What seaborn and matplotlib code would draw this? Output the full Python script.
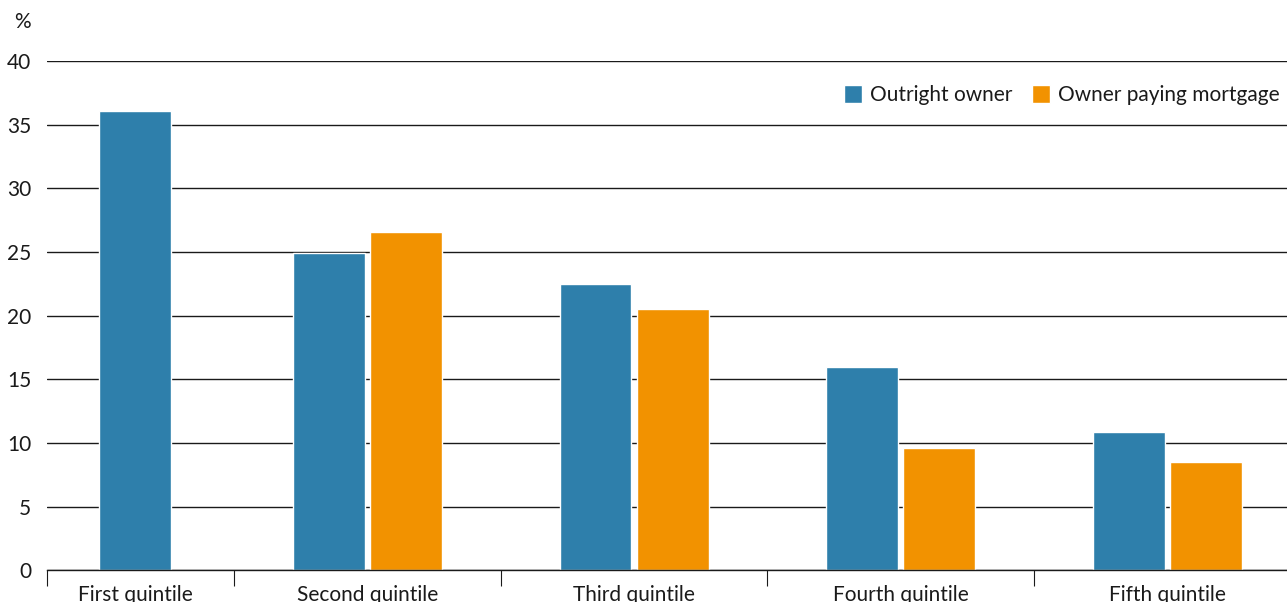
import numpy as np
import pandas as pd
import matplotlib
matplotlib.use("Agg")
import matplotlib.pyplot as plt
import seaborn as sns

# Share of households by income quintile, per housing tenure (%)
quintiles = ["First quintile", "Second quintile", "Third quintile",
             "Fourth quintile", "Fifth quintile"]
outright_owner = [36.1, 24.9, 22.5, 16.0, 10.9]
owner_mortgage = [np.nan, 26.6, 20.5, 9.6, 8.5]
tenures = ["Outright owner", "Owner paying mortgage"]
y_ticks = [0, 5, 10, 15, 20, 25, 30, 35, 40]

colors = {"Outright owner": "#2E7FAB", "Owner paying mortgage": "#F29200"}
FS = 15

sns.set_style("white")
plt.rcParams["font.family"] = ["Lato", "DejaVu Sans"]
plt.rcParams["font.size"] = FS

df = pd.DataFrame({
    "quintile": quintiles * 2,
    "tenure": [tenures[0]] * len(quintiles) + [tenures[1]] * len(quintiles),
    "share": outright_owner + owner_mortgage,
}).dropna()

W, H = 1287, 602
fig = plt.figure(figsize=(W / 100, H / 100), dpi=100)
ax = fig.add_axes([47 / W, 31.7 / H, 1 - 47 / W, (570.3 - 61) / H])

sns.barplot(data=df, x="quintile", y="share", hue="tenure",
            order=quintiles, hue_order=tenures, palette=colors,
            width=0.578, gap=0.066, saturation=1, ax=ax, legend=True)

# axis ranges
x_left, x_right = -0.2026, 4.450
ax.set_xlim(x_left, x_right)
ax.set_ylim(0, 40)

# The first quintile has only one series: centre its bar within its visible band
first_center = (x_left + 0.5) / 2 - 0.02
bar0 = ax.containers[0][0]
bar0.set_x(first_center - bar0.get_width() / 2)

# x axis: labels at category centres, separator ticks between categories
ax.set_xticks([first_center, 1, 2, 3, 4])
ax.set_xticklabels(quintiles)
ax.set_xticks([x_left, 0.5, 1.5, 2.5, 3.5], minor=True)
ax.tick_params(axis="x", which="major", length=0, pad=10.5, labelsize=FS,
               colors="#1a1a1a")
ax.tick_params(axis="x", which="minor", length=11.5, width=0.8,
               color="#1a1a1a", direction="out", bottom=True)
ax.set_xlabel("")

# y axis: gridlines only, labels on the left
ax.set_yticks(y_ticks)
ax.tick_params(axis="y", length=0, pad=11.5, labelsize=FS, colors="#1a1a1a")
ax.set_ylabel("")
ax.yaxis.grid(True, color="#1a1a1a", linewidth=1.0)
ax.set_axisbelow(True)

for side in ["top", "right", "left"]:
    ax.spines[side].set_visible(False)
ax.spines["bottom"].set_color("#1a1a1a")
ax.spines["bottom"].set_linewidth(1.0)

fig.text(31 / W, 1 - 22.5 / H, "%", ha="right", va="center",
         fontsize=FS, color="#1a1a1a")

handles, labels = ax.get_legend_handles_labels()
ax.legend(handles, labels, ncol=2, frameon=False, fontsize=FS,
          loc="center right", bbox_to_anchor=(1280 / W, 1 - 95 / H),
          bbox_transform=fig.transFigure, borderpad=0, borderaxespad=0,
          handlelength=0.91, handleheight=0.91, handletextpad=0.38,
          columnspacing=0.9, labelcolor="#1a1a1a")

fig.savefig("out.png", dpi=100)
